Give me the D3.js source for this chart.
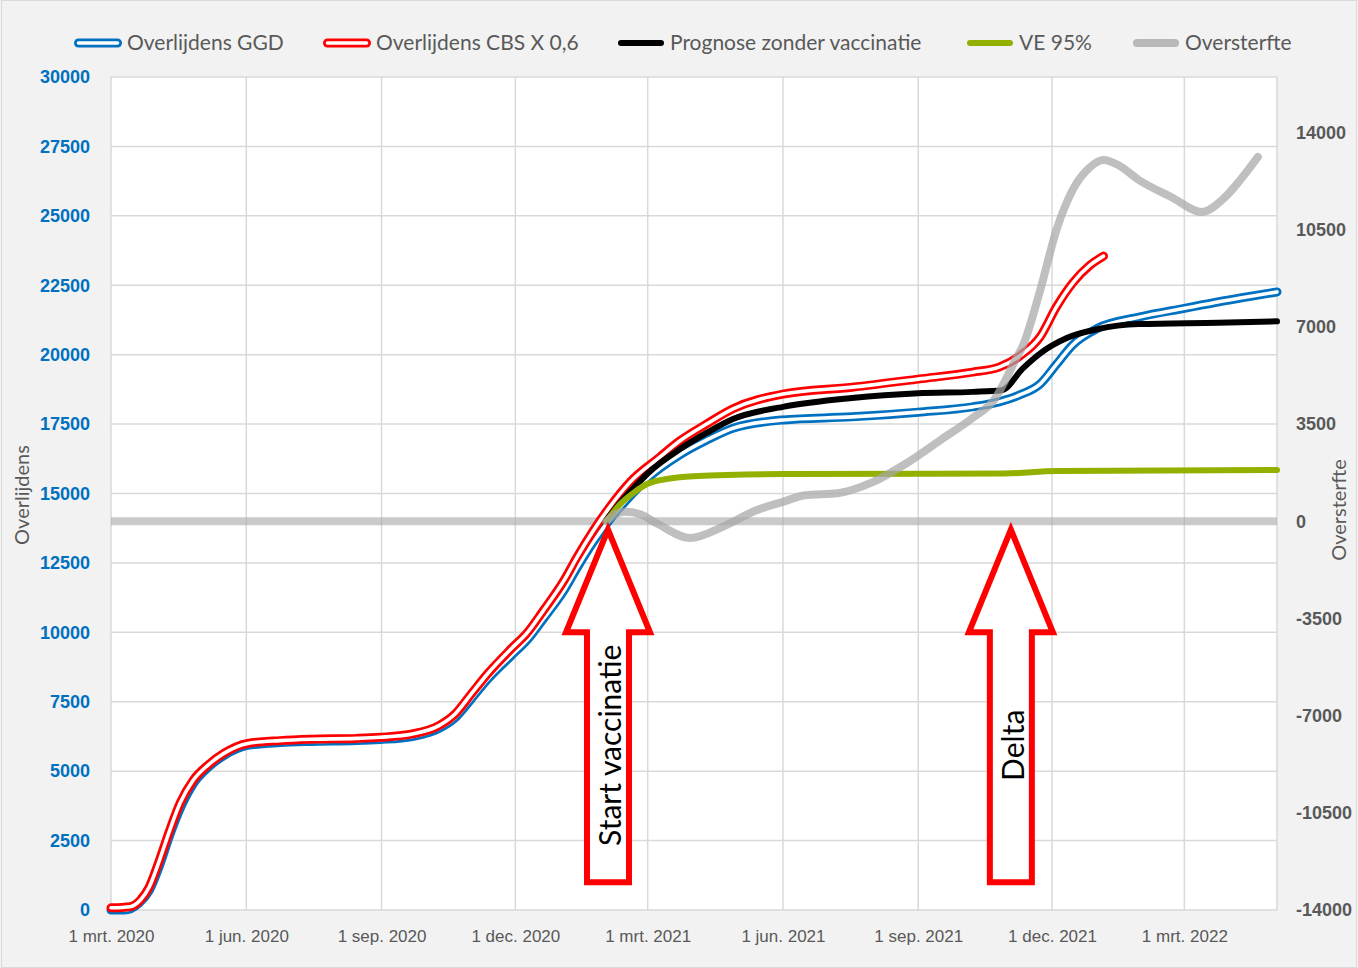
<!DOCTYPE html>
<html>
<head>
<meta charset="utf-8">
<script src="https://d3js.org/d3.v7.min.js"></script>
<style>
  body { margin: 0; background: #f2f2f2; }
  svg { font-family: Lato, "Open Sans", sans-serif; }
  .grid line { stroke: #d9d9d9; stroke-width: 1.5; }
  .yl text { fill: #0070c0; font-weight: bold; font-size: 18px; }
  .yr text { fill: #595959; font-weight: bold; font-size: 18px; }
  .xa text { fill: #595959; font-size: 17px; }
</style>
</head>
<body>
<div id="chart"></div>
<script>
// ---- data ----
var ggdDates = ["2020-03-01","2020-03-10","2020-03-20","2020-03-27","2020-04-03","2020-04-10","2020-04-17","2020-04-26","2020-05-06","2020-05-17","2020-06-02","2020-06-24","2020-07-15","2020-08-15","2020-08-31","2020-09-22","2020-10-10","2020-10-21","2020-11-01","2020-11-12","2020-11-28","2020-12-09","2020-12-20","2021-01-03","2021-01-12","2021-01-23","2021-02-03","2021-02-17","2021-03-01","2021-03-23","2021-04-10","2021-04-28","2021-06-01","2021-07-18","2021-09-01","2021-10-08","2021-10-26","2021-11-09","2021-11-23","2021-12-04","2021-12-15","2022-01-01","2022-01-29","2022-03-01","2022-04-08","2022-05-03"];
var ggdValues = [0,0,250,700,1600,2700,3650,4550,5130,5570,5930,6030,6070,6100,6140,6250,6540,6920,7600,8300,9150,9720,10480,11500,12320,13250,14050,14900,15550,16400,16920,17350,17650,17760,17930,18120,18300,18550,18950,19650,20350,20950,21350,21670,22040,22260];

var cbsDates = ["2020-03-01","2020-03-14","2020-03-21","2020-03-27","2020-04-03","2020-04-10","2020-04-17","2020-04-26","2020-05-06","2020-05-17","2020-06-02","2020-06-24","2020-07-15","2020-08-15","2020-08-31","2020-09-22","2020-10-10","2020-10-21","2020-11-01","2020-11-12","2020-11-28","2020-12-09","2020-12-20","2021-01-03","2021-01-12","2021-01-23","2021-02-03","2021-02-17","2021-03-09","2021-03-23","2021-04-10","2021-04-28","2021-06-01","2021-07-18","2021-09-01","2021-10-08","2021-10-26","2021-11-09","2021-11-23","2021-12-04","2021-12-15","2021-12-27","2022-01-05"];
var cbsValues = [80,120,360,830,1800,2880,3850,4680,5220,5650,6000,6100,6150,6180,6220,6340,6640,7060,7780,8500,9400,9980,10780,11860,12710,13660,14500,15410,16300,16900,17500,18050,18580,18830,19120,19370,19550,19950,20650,21720,22580,23230,23550];

var progDates = ["2021-02-01","2021-02-10","2021-02-24","2021-03-01","2021-03-23","2021-04-10","2021-04-28","2021-06-01","2021-07-18","2021-09-01","2021-10-08","2021-10-28","2021-11-11","2021-11-23","2021-12-11","2022-01-01","2022-01-29","2022-03-24","2022-05-03"];
var progValues = [14050,14650,15450,15720,16600,17180,17680,18120,18440,18610,18660,18720,19500,20050,20600,20920,21100,21150,21200];

var veDates = ["2021-02-01","2021-02-10","2021-02-20","2021-03-01","2021-03-15","2021-04-01","2021-06-01","2021-10-30","2021-12-04","2022-05-03"];
var veValues = [14000,14600,15050,15350,15530,15620,15700,15720,15810,15850];

var overDates = ["2021-02-01","2021-02-07","2021-02-14","2021-02-24","2021-03-08","2021-03-30","2021-04-21","2021-05-14","2021-06-01","2021-06-16","2021-07-08","2021-08-01","2021-08-24","2021-09-16","2021-10-08","2021-10-23","2021-11-06","2021-11-11","2021-11-23","2021-12-04","2021-12-15","2021-12-27","2022-01-05","2022-01-15","2022-01-29","2022-02-20","2022-03-13","2022-03-28","2022-04-08","2022-04-20"];
var overValues = [0,250,340,250,-100,-600,-200,400,700,940,1010,1410,2090,2920,3720,4400,5800,6300,8330,10490,11930,12760,13010,12830,12290,11680,11140,11640,12290,13120];

var xTickDates = ["2020-03-01","2020-06-01","2020-09-01","2020-12-01","2021-03-01","2021-06-01","2021-09-01","2021-12-01","2022-03-01"];
var xTickLabels = ["1 mrt. 2020","1 jun. 2020","1 sep. 2020","1 dec. 2020","1 mrt. 2021","1 jun. 2021","1 sep. 2021","1 dec. 2021","1 mrt. 2022"];
var yLeftTicks = [0,2500,5000,7500,10000,12500,15000,17500,20000,22500,25000,27500,30000];
var yRightTicks = [-14000,-10500,-7000,-3500,0,3500,7000,10500,14000];

var legendNames = ["Overlijdens GGD","Overlijdens CBS X 0,6","Prognose zonder vaccinatie","VE 95%","Oversterfte"];
var arrowDates = ["2021-02-02","2021-11-03"];
var arrowLabels = ["Start vaccinatie","Delta"];

// ---- chart ----
var W = 1358, H = 968;
var margin = {top: 77, right: 81, bottom: 58, left: 111},
    width = W - margin.left - margin.right,
    height = H - margin.top - margin.bottom;

var parse = d3.timeParse("%Y-%m-%d");
var plain = function(d) { return String(d); };

var root = d3.select("#chart").append("svg")
    .attr("width", W).attr("height", H);

root.append("rect").attr("x", 1.5).attr("y", 0.5).attr("width", W - 3).attr("height", H - 1)
    .attr("fill", "#f2f2f2").attr("stroke", "#d9d9d9");

var svg = root.append("g")
    .attr("transform", "translate(" + margin.left + "," + margin.top + ")");

var x = d3.scaleTime()
    .domain([parse("2020-03-01"), parse("2022-05-03")])
    .range([0, width]);
var y = d3.scaleLinear().domain([0, 30000]).range([height, 0]);
var yR = d3.scaleLinear().domain([-14000, 16000]).range([height, 0]);

svg.append("rect").attr("width", width).attr("height", height)
    .attr("fill", "white").attr("stroke", "#d9d9d9").attr("stroke-width", 1.5);

// grid
var grid = svg.append("g").attr("class", "grid");
grid.selectAll(".hg").data(yLeftTicks.slice(1, -1)).enter().append("line")
    .attr("x1", 0).attr("x2", width)
    .attr("y1", function(d) { return y(d); }).attr("y2", function(d) { return y(d); });
grid.selectAll(".vg").data(xTickDates.slice(1)).enter().append("line")
    .attr("y1", 0).attr("y2", height)
    .attr("x1", function(d) { return x(parse(d)); }).attr("x2", function(d) { return x(parse(d)); });

// axes
svg.append("g").attr("class", "xa")
    .attr("transform", "translate(0," + height + ")")
    .call(d3.axisBottom(x).tickValues(xTickDates.map(parse)).tickSize(0)
        .tickFormat(function(d, i) { return xTickLabels[i]; }))
    .call(function(g) { g.select(".domain").remove(); })
    .selectAll("text").attr("y", 26).attr("dy", "0.35em");

svg.append("g").attr("class", "yl")
    .call(d3.axisLeft(y).tickValues(yLeftTicks).tickFormat(plain).tickSize(0).tickPadding(21))
    .call(function(g) { g.select(".domain").remove(); });

svg.append("g").attr("class", "yr")
    .attr("transform", "translate(" + width + ",0)")
    .call(d3.axisRight(yR).tickValues(yRightTicks).tickFormat(plain).tickSize(0).tickPadding(19))
    .call(function(g) { g.select(".domain").remove(); });

root.append("text")
    .attr("transform", "translate(21," + 495 + ") rotate(-90)")
    .attr("text-anchor", "middle").attr("dominant-baseline", "central")
    .style("font-size", "20px").style("fill", "#595959")
    .text("Overlijdens");

root.append("text")
    .attr("transform", "translate(1338," + 510 + ") rotate(-90)")
    .attr("text-anchor", "middle").attr("dominant-baseline", "central")
    .style("font-size", "20px").style("fill", "#595959")
    .text("Oversterfte");

// zero line of oversterfte
svg.append("line")
    .attr("x1", 0).attr("x2", width)
    .attr("y1", yR(0)).attr("y2", yR(0))
    .attr("stroke", "#a6a6a6").attr("stroke-opacity", 0.6).attr("stroke-width", 8);

function series(dates, values) {
    return dates.map(function(d, i) { return {date: parse(d), value: values[i]}; });
}

var lineL = d3.line().curve(d3.curveMonotoneX)
    .x(function(d) { return x(d.date); })
    .y(function(d) { return y(d.value); });
var lineR = d3.line().curve(d3.curveMonotoneX)
    .x(function(d) { return x(d.date); })
    .y(function(d) { return yR(d.value); });

function doubleLine(data, color) {
    svg.append("path").datum(data).attr("d", lineL)
        .attr("fill", "none").attr("stroke", color).attr("stroke-width", 9)
        .attr("stroke-linecap", "round").attr("stroke-linejoin", "round");
    svg.append("path").datum(data).attr("d", lineL)
        .attr("fill", "none").attr("stroke", "white").attr("stroke-width", 3.6)
        .attr("stroke-linecap", "round").attr("stroke-linejoin", "round");
}

doubleLine(series(ggdDates, ggdValues), "#0070c0");
doubleLine(series(cbsDates, cbsValues), "#ff0000");

svg.append("path").datum(series(progDates, progValues)).attr("d", lineL)
    .attr("fill", "none").attr("stroke", "black").attr("stroke-width", 6)
    .attr("stroke-linecap", "round");

svg.append("path").datum(series(veDates, veValues)).attr("d", lineL)
    .attr("fill", "none").attr("stroke", "#92b000").attr("stroke-width", 6)
    .attr("stroke-linecap", "round");

svg.append("path").datum(series(overDates, overValues)).attr("d", lineR)
    .attr("fill", "none").attr("stroke", "#a6a6a6").attr("stroke-opacity", 0.72)
    .attr("stroke-width", 8).attr("stroke-linecap", "round").attr("stroke-linejoin", "round");

// arrows
arrowDates.forEach(function(d, i) {
    var cx = x(parse(d));
    var tip = y(13700), base = y(10000), bottom = y(1000);
    var pts = [[cx, tip], [cx + 42, base], [cx + 21, base], [cx + 21, bottom],
               [cx - 21, bottom], [cx - 21, base], [cx - 42, base]];
    svg.append("polygon")
        .attr("points", pts.map(function(p) { return p.join(","); }).join(" "))
        .attr("fill", "white").attr("stroke", "#ff0000").attr("stroke-width", 6)
        .attr("stroke-linejoin", "miter");
    svg.append("text")
        .attr("transform", "translate(" + (cx + 1) + "," + ((base + bottom) / 2 - 12) + ") rotate(-90)")
        .attr("text-anchor", "middle").attr("dominant-baseline", "central")
        .style("font-size", "30px").style("fill", "black")
        .text(arrowLabels[i]);
});

// legend
var legendX = [74, 323, 618, 967, 1133];
var legend = root.append("g");
legendNames.forEach(function(name, i) {
    var g = legend.append("g").attr("transform", "translate(" + legendX[i] + ",43)");
    if (i < 2) {
        var c = i === 0 ? "#0070c0" : "#ff0000";
        g.append("line").attr("x1", 4.5).attr("x2", 43.5).attr("stroke", c).attr("stroke-width", 9).attr("stroke-linecap", "round");
        g.append("line").attr("x1", 4.5).attr("x2", 43.5).attr("stroke", "white").attr("stroke-width", 3.6).attr("stroke-linecap", "round");
    } else {
        var cols = ["black", "#92b000", "#b8b8b8"];
        var sw = i === 4 ? 8 : 6;
        g.append("line").attr("x1", sw / 2).attr("x2", 46 - sw / 2).attr("stroke", cols[i - 2])
            .attr("stroke-width", sw).attr("stroke-linecap", "round");
    }
    g.append("text").attr("x", i < 2 ? 53 : 52).attr("dy", "0.35em")
        .style("font-size", "21px").style("fill", "#595959").text(name);
});
</script>
</body>
</html>
